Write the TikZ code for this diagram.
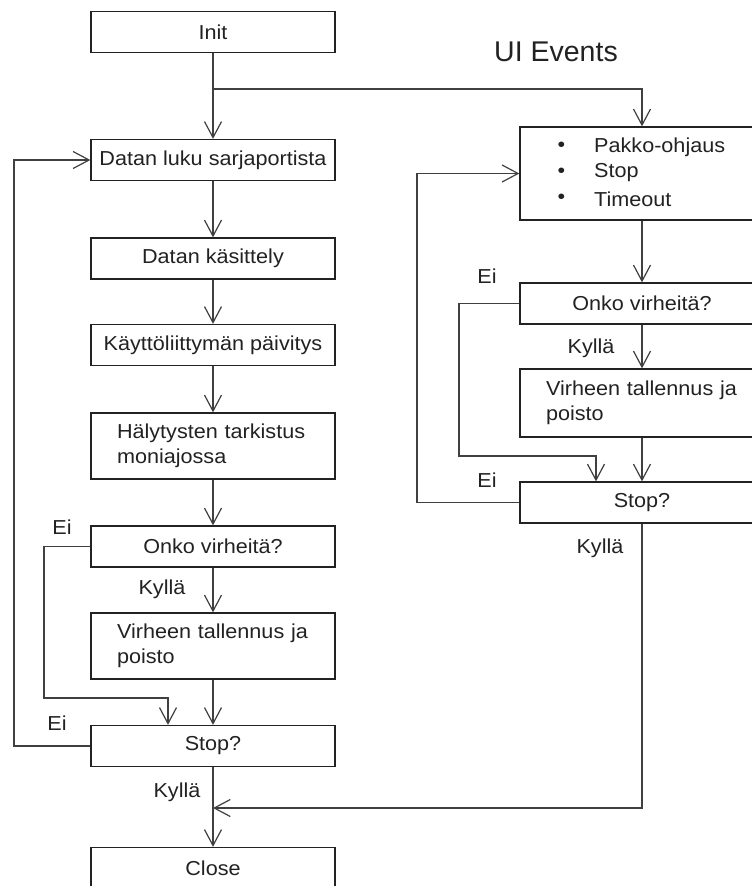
\documentclass[tikz,border=0pt]{standalone}
\usepackage{fontspec}
\setmainfont{Liberation Sans}[FakeStretch=1.07]
\newfontfamily\plainfont{Liberation Sans}
\usetikzlibrary{arrows.meta}
\definecolor{ln}{HTML}{404040}
\definecolor{tx}{HTML}{222222}
\begin{document}
\begin{tikzpicture}[x=1pt,y=-1pt,
  box/.style={draw=tx, line width=1.3pt, minimum width=244pt, minimum height=41pt, inner sep=0pt, font=\fontsize{20.2}{25.5}\selectfont, text=tx},
  lbox/.style={box, align=left, text width=192pt, inner xsep=26pt},
  conn/.style={draw=ln, line width=1.2pt, -{Straight Barb[length=16pt,width=17pt]}},
  lab/.style={font=\fontsize{20.2}{24}\selectfont, text=tx, inner sep=0pt}]
\clip (0,0) rectangle (752,886);
\fill[white] (0,0) rectangle (752,886);
% left column
\node[box] (init) at (213,32) {Init};
\node[box] (dl) at (213,160) {Datan luku sarjaportista};
\node[box] (dk) at (213,258.5) {Datan käsittely};
\node[box] (ku) at (213,345) {Käyttöliittymän päivitys};
\node[lbox, minimum height=66pt] (ha) at (213,446) {\mbox{Hälytysten tarkistus}\\moniajossa};
\node[box] (on1) at (213,546.5) {Onko virheitä?};
\node[lbox, minimum height=66pt] (vi1) at (213,646) {\mbox{Virheen tallennus ja}\\poisto};
\node[box] (st1) at (213,746) {Stop?};
\node[box] (cl) at (213,868) {Close};
% right column
\node[font=\plainfont\fontsize{28.5}{34}\selectfont, text=tx, inner sep=0pt] (title) at (556,52) {UI Events};
\node[box, minimum height=93pt] (ev) at (642,173.5) {};
\node[lab, anchor=west] (b1) at (557.5,147) {•};
\node[lab, anchor=west] (t1) at (594,147) {Pakko-ohjaus};
\node[lab, anchor=west] (b2) at (557.5,173) {•};
\node[lab, anchor=west] (t2) at (594,173) {Stop};
\node[lab, anchor=west] (b3) at (557.5,199) {•};
\node[lab, anchor=west] (t3) at (594,199) {Timeout};
\node[box] (on2) at (642,303.5) {Onko virheitä?};
\node[lbox, minimum height=68pt] (vi2) at (642,403) {\mbox{Virheen tallennus ja}\\poisto};
\node[box] (st2) at (642,502.5) {Stop?};
% labels
\node[lab] (l1) at (62,527) {Ei};
\node[lab] (l2) at (57,723) {Ei};
\node[lab] (l3) at (162,589) {Kyllä};
\node[lab] (l4) at (177,792) {Kyllä};
\node[lab] (l5) at (487,276) {Ei};
\node[lab] (l6) at (591,348) {Kyllä};
\node[lab] (l7) at (487,480) {Ei};
\node[lab] (l8) at (600,548) {Kyllä};
% connectors
\coordinate (br) at (213,89);
\coordinate (mg) at (213,808);
\draw[conn] (init.south) -- (dl.north);
\draw[conn] (br) -| (ev.north);
\draw[conn] (dl.south) -- (dk.north);
\draw[conn] (dk.south) -- (ku.north);
\draw[conn] (ku.south) -- (ha.north);
\draw[conn] (ha.south) -- (on1.north);
\draw[conn] (on1.south) -- (vi1.north);
\draw[conn] (vi1.south) -- (st1.north);
\draw[conn] (on1.west) -| (44,698) -| ([xshift=-45pt]st1.north);
\draw[conn] (st1.west) -| (14,160) -- (dl.west);
\draw[conn] (st1.south) -- (cl.north);
\draw[conn] (st2.south) |- (mg);
\draw[conn] (ev.south) -- (on2.north);
\draw[conn] (on2.south) -- (vi2.north);
\draw[conn] (vi2.south) -- (st2.north);
\draw[conn] (on2.west) -| (459,456) -| ([xshift=-46pt]st2.north);
\draw[conn] (st2.west) -| (417,173.5) -- (ev.west);
\end{tikzpicture}
\end{document}
